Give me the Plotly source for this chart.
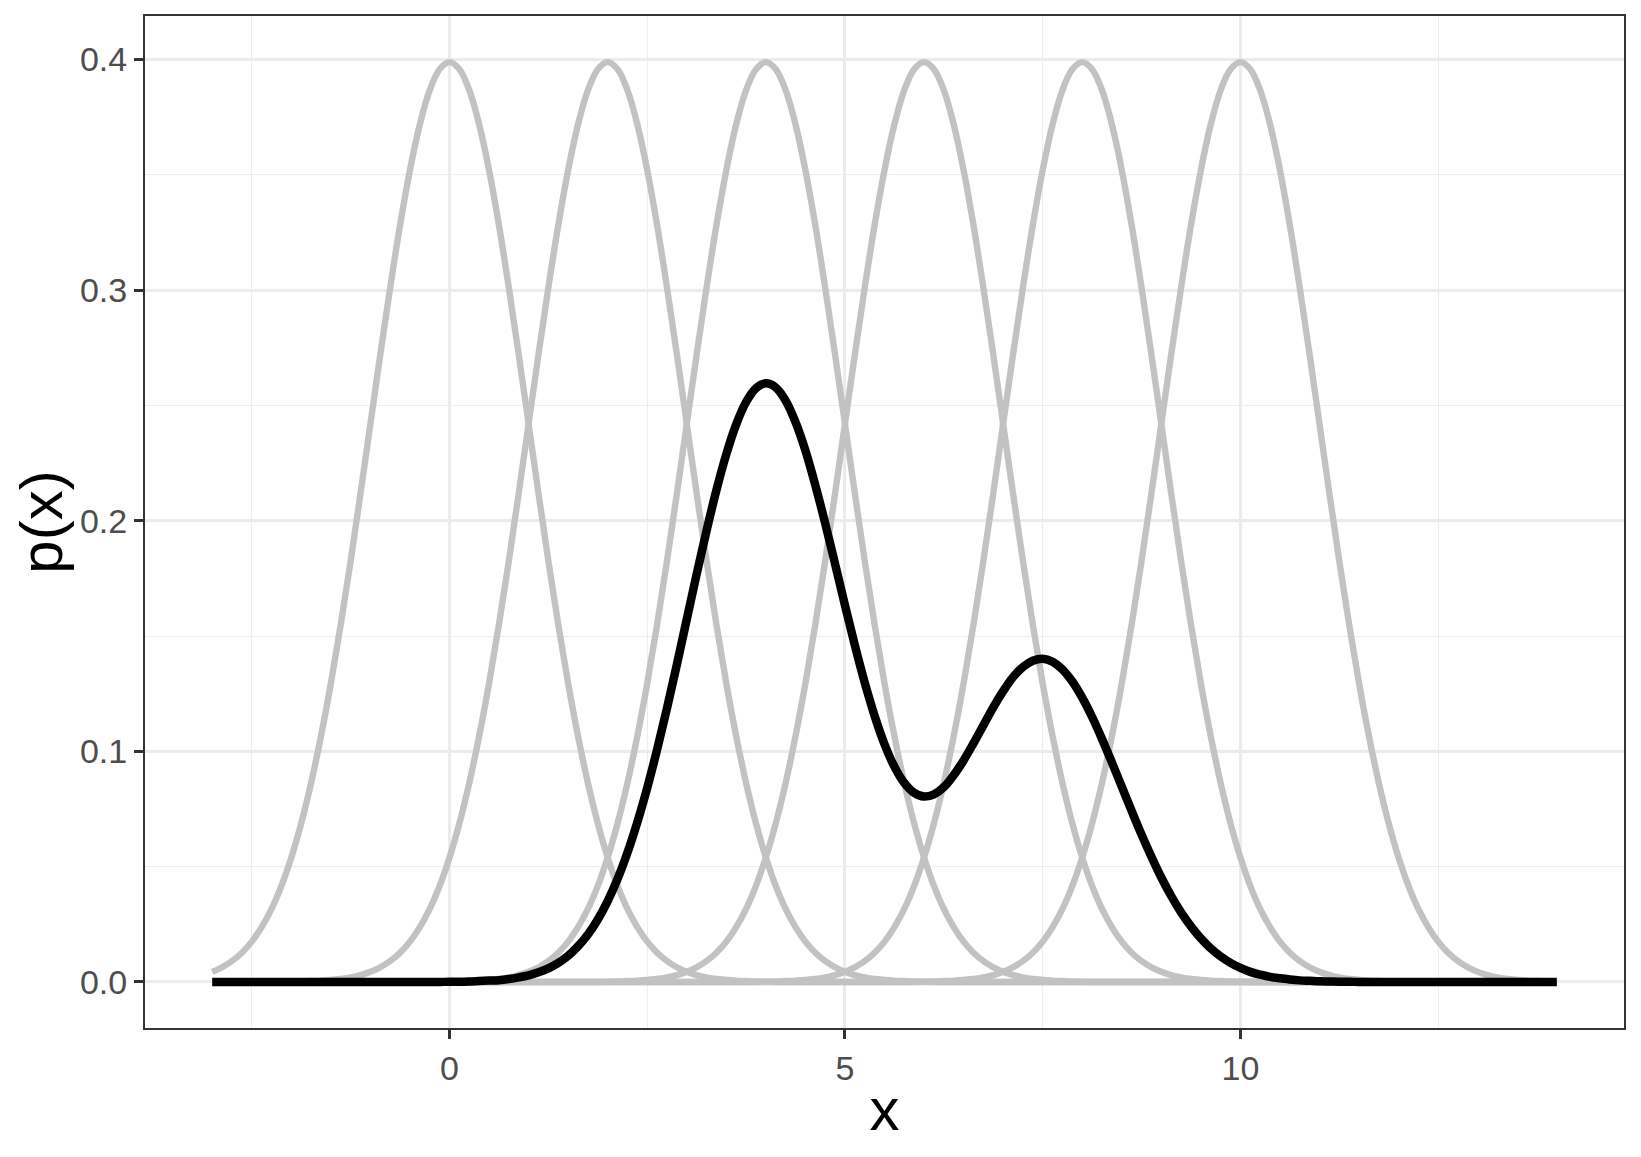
import plotly.graph_objects as go

FONT = 'Liberation Sans, Arial, sans-serif'

# x grid shared by all curves (step 0.125 from -3 to 14, one row per unit)
x_vals = [
    -3, -2.875, -2.75, -2.625, -2.5, -2.375, -2.25, -2.125,
    -2, -1.875, -1.75, -1.625, -1.5, -1.375, -1.25, -1.125,
    -1, -0.875, -0.75, -0.625, -0.5, -0.375, -0.25, -0.125,
    0, 0.125, 0.25, 0.375, 0.5, 0.625, 0.75, 0.875,
    1, 1.125, 1.25, 1.375, 1.5, 1.625, 1.75, 1.875,
    2, 2.125, 2.25, 2.375, 2.5, 2.625, 2.75, 2.875,
    3, 3.125, 3.25, 3.375, 3.5, 3.625, 3.75, 3.875,
    4, 4.125, 4.25, 4.375, 4.5, 4.625, 4.75, 4.875,
    5, 5.125, 5.25, 5.375, 5.5, 5.625, 5.75, 5.875,
    6, 6.125, 6.25, 6.375, 6.5, 6.625, 6.75, 6.875,
    7, 7.125, 7.25, 7.375, 7.5, 7.625, 7.75, 7.875,
    8, 8.125, 8.25, 8.375, 8.5, 8.625, 8.75, 8.875,
    9, 9.125, 9.25, 9.375, 9.5, 9.625, 9.75, 9.875,
    10, 10.125, 10.25, 10.375, 10.5, 10.625, 10.75, 10.875,
    11, 11.125, 11.25, 11.375, 11.5, 11.625, 11.75, 11.875,
    12, 12.125, 12.25, 12.375, 12.5, 12.625, 12.75, 12.875,
    13, 13.125, 13.25, 13.375, 13.5, 13.625, 13.75, 13.875,
    14,
]

# grey component densities (peaks at 0, 2, 4, 6, 8, 10)
comp_0 = [
    0.0044, 0.0064, 0.0091, 0.0127, 0.0175, 0.0238, 0.0317, 0.0417,
    0.0540, 0.0688, 0.0863, 0.1066, 0.1295, 0.1550, 0.1826, 0.2119,
    0.2420, 0.2721, 0.3011, 0.3282, 0.3521, 0.3719, 0.3867, 0.3958,
    0.3989, 0.3958, 0.3867, 0.3719, 0.3521, 0.3282, 0.3011, 0.2721,
    0.2420, 0.2119, 0.1826, 0.1550, 0.1295, 0.1066, 0.0863, 0.0688,
    0.0540, 0.0417, 0.0317, 0.0238, 0.0175, 0.0127, 0.0091, 0.0064,
    0.0044, 0.0030, 0.0020, 0.0013, 0.0009, 0.0006, 0.0004, 0.0002,
    0.0001, 0, 0, 0, 0, 0, 0, 0,
    0, 0, 0, 0, 0, 0, 0, 0,
    0, 0, 0, 0, 0, 0, 0, 0,
    0, 0, 0, 0, 0, 0, 0, 0,
    0, 0, 0, 0, 0, 0, 0, 0,
    0, 0, 0, 0, 0, 0, 0, 0,
    0, 0, 0, 0, 0, 0, 0, 0,
    0, 0, 0, 0, 0, 0, 0, 0,
    0, 0, 0, 0, 0, 0, 0, 0,
    0, 0, 0, 0, 0, 0, 0, 0,
    0,
]
comp_2 = [
    0, 0, 0, 0, 0, 0, 0, 0,
    0.0001, 0.0002, 0.0004, 0.0006, 0.0009, 0.0013, 0.0020, 0.0030,
    0.0044, 0.0064, 0.0091, 0.0127, 0.0175, 0.0238, 0.0317, 0.0417,
    0.0540, 0.0688, 0.0863, 0.1066, 0.1295, 0.1550, 0.1826, 0.2119,
    0.2420, 0.2721, 0.3011, 0.3282, 0.3521, 0.3719, 0.3867, 0.3958,
    0.3989, 0.3958, 0.3867, 0.3719, 0.3521, 0.3282, 0.3011, 0.2721,
    0.2420, 0.2119, 0.1826, 0.1550, 0.1295, 0.1066, 0.0863, 0.0688,
    0.0540, 0.0417, 0.0317, 0.0238, 0.0175, 0.0127, 0.0091, 0.0064,
    0.0044, 0.0030, 0.0020, 0.0013, 0.0009, 0.0006, 0.0004, 0.0002,
    0.0001, 0, 0, 0, 0, 0, 0, 0,
    0, 0, 0, 0, 0, 0, 0, 0,
    0, 0, 0, 0, 0, 0, 0, 0,
    0, 0, 0, 0, 0, 0, 0, 0,
    0, 0, 0, 0, 0, 0, 0, 0,
    0, 0, 0, 0, 0, 0, 0, 0,
    0, 0, 0, 0, 0, 0, 0, 0,
    0, 0, 0, 0, 0, 0, 0, 0,
    0,
]
comp_4 = [
    0, 0, 0, 0, 0, 0, 0, 0,
    0, 0, 0, 0, 0, 0, 0, 0,
    0, 0, 0, 0, 0, 0, 0, 0,
    0.0001, 0.0002, 0.0004, 0.0006, 0.0009, 0.0013, 0.0020, 0.0030,
    0.0044, 0.0064, 0.0091, 0.0127, 0.0175, 0.0238, 0.0317, 0.0417,
    0.0540, 0.0688, 0.0863, 0.1066, 0.1295, 0.1550, 0.1826, 0.2119,
    0.2420, 0.2721, 0.3011, 0.3282, 0.3521, 0.3719, 0.3867, 0.3958,
    0.3989, 0.3958, 0.3867, 0.3719, 0.3521, 0.3282, 0.3011, 0.2721,
    0.2420, 0.2119, 0.1826, 0.1550, 0.1295, 0.1066, 0.0863, 0.0688,
    0.0540, 0.0417, 0.0317, 0.0238, 0.0175, 0.0127, 0.0091, 0.0064,
    0.0044, 0.0030, 0.0020, 0.0013, 0.0009, 0.0006, 0.0004, 0.0002,
    0.0001, 0, 0, 0, 0, 0, 0, 0,
    0, 0, 0, 0, 0, 0, 0, 0,
    0, 0, 0, 0, 0, 0, 0, 0,
    0, 0, 0, 0, 0, 0, 0, 0,
    0, 0, 0, 0, 0, 0, 0, 0,
    0, 0, 0, 0, 0, 0, 0, 0,
    0,
]
comp_6 = [
    0, 0, 0, 0, 0, 0, 0, 0,
    0, 0, 0, 0, 0, 0, 0, 0,
    0, 0, 0, 0, 0, 0, 0, 0,
    0, 0, 0, 0, 0, 0, 0, 0,
    0, 0, 0, 0, 0, 0, 0, 0,
    0.0001, 0.0002, 0.0004, 0.0006, 0.0009, 0.0013, 0.0020, 0.0030,
    0.0044, 0.0064, 0.0091, 0.0127, 0.0175, 0.0238, 0.0317, 0.0417,
    0.0540, 0.0688, 0.0863, 0.1066, 0.1295, 0.1550, 0.1826, 0.2119,
    0.2420, 0.2721, 0.3011, 0.3282, 0.3521, 0.3719, 0.3867, 0.3958,
    0.3989, 0.3958, 0.3867, 0.3719, 0.3521, 0.3282, 0.3011, 0.2721,
    0.2420, 0.2119, 0.1826, 0.1550, 0.1295, 0.1066, 0.0863, 0.0688,
    0.0540, 0.0417, 0.0317, 0.0238, 0.0175, 0.0127, 0.0091, 0.0064,
    0.0044, 0.0030, 0.0020, 0.0013, 0.0009, 0.0006, 0.0004, 0.0002,
    0.0001, 0, 0, 0, 0, 0, 0, 0,
    0, 0, 0, 0, 0, 0, 0, 0,
    0, 0, 0, 0, 0, 0, 0, 0,
    0, 0, 0, 0, 0, 0, 0, 0,
    0,
]
comp_8 = [
    0, 0, 0, 0, 0, 0, 0, 0,
    0, 0, 0, 0, 0, 0, 0, 0,
    0, 0, 0, 0, 0, 0, 0, 0,
    0, 0, 0, 0, 0, 0, 0, 0,
    0, 0, 0, 0, 0, 0, 0, 0,
    0, 0, 0, 0, 0, 0, 0, 0,
    0, 0, 0, 0, 0, 0, 0, 0,
    0.0001, 0.0002, 0.0004, 0.0006, 0.0009, 0.0013, 0.0020, 0.0030,
    0.0044, 0.0064, 0.0091, 0.0127, 0.0175, 0.0238, 0.0317, 0.0417,
    0.0540, 0.0688, 0.0863, 0.1066, 0.1295, 0.1550, 0.1826, 0.2119,
    0.2420, 0.2721, 0.3011, 0.3282, 0.3521, 0.3719, 0.3867, 0.3958,
    0.3989, 0.3958, 0.3867, 0.3719, 0.3521, 0.3282, 0.3011, 0.2721,
    0.2420, 0.2119, 0.1826, 0.1550, 0.1295, 0.1066, 0.0863, 0.0688,
    0.0540, 0.0417, 0.0317, 0.0238, 0.0175, 0.0127, 0.0091, 0.0064,
    0.0044, 0.0030, 0.0020, 0.0013, 0.0009, 0.0006, 0.0004, 0.0002,
    0.0001, 0, 0, 0, 0, 0, 0, 0,
    0, 0, 0, 0, 0, 0, 0, 0,
    0,
]
comp_10 = [
    0, 0, 0, 0, 0, 0, 0, 0,
    0, 0, 0, 0, 0, 0, 0, 0,
    0, 0, 0, 0, 0, 0, 0, 0,
    0, 0, 0, 0, 0, 0, 0, 0,
    0, 0, 0, 0, 0, 0, 0, 0,
    0, 0, 0, 0, 0, 0, 0, 0,
    0, 0, 0, 0, 0, 0, 0, 0,
    0, 0, 0, 0, 0, 0, 0, 0,
    0, 0, 0, 0, 0, 0, 0, 0,
    0.0001, 0.0002, 0.0004, 0.0006, 0.0009, 0.0013, 0.0020, 0.0030,
    0.0044, 0.0064, 0.0091, 0.0127, 0.0175, 0.0238, 0.0317, 0.0417,
    0.0540, 0.0688, 0.0863, 0.1066, 0.1295, 0.1550, 0.1826, 0.2119,
    0.2420, 0.2721, 0.3011, 0.3282, 0.3521, 0.3719, 0.3867, 0.3958,
    0.3989, 0.3958, 0.3867, 0.3719, 0.3521, 0.3282, 0.3011, 0.2721,
    0.2420, 0.2119, 0.1826, 0.1550, 0.1295, 0.1066, 0.0863, 0.0688,
    0.0540, 0.0417, 0.0317, 0.0238, 0.0175, 0.0127, 0.0091, 0.0064,
    0.0044, 0.0030, 0.0020, 0.0013, 0.0009, 0.0006, 0.0004, 0.0002,
    0.0001,
]

# black mixture density
mixture = [
    0, 0, 0, 0, 0, 0, 0, 0,
    0, 0, 0, 0, 0, 0, 0, 0,
    0, 0, 0, 0, 0, 0, 0, 0,
    0.0001, 0.0001, 0.0002, 0.0004, 0.0006, 0.0008, 0.0013, 0.0020,
    0.0029, 0.0042, 0.0059, 0.0083, 0.0114, 0.0155, 0.0206, 0.0271,
    0.0351, 0.0447, 0.0561, 0.0693, 0.0842, 0.1008, 0.1187, 0.1377,
    0.1573, 0.1769, 0.1957, 0.2133, 0.2289, 0.2418, 0.2515, 0.2575,
    0.2596, 0.2578, 0.2521, 0.2428, 0.2305, 0.2155, 0.1989, 0.1813,
    0.1634, 0.1460, 0.1298, 0.1154, 0.1031, 0.0934, 0.0863, 0.0820,
    0.0804, 0.0814, 0.0845, 0.0897, 0.0961, 0.1035, 0.1113, 0.1191,
    0.1261, 0.1322, 0.1366, 0.1393, 0.1402, 0.1389, 0.1355, 0.1303,
    0.1233, 0.1149, 0.1054, 0.0952, 0.0847, 0.0742, 0.0639, 0.0543,
    0.0453, 0.0373, 0.0302, 0.0241, 0.0189, 0.0146, 0.0111, 0.0083,
    0.0061, 0.0044, 0.0032, 0.0022, 0.0016, 0.0011, 0.0007, 0.0005,
    0.0003, 0.0002, 0.0001, 0.0001, 0, 0, 0, 0,
    0, 0, 0, 0, 0, 0, 0, 0,
    0, 0, 0, 0, 0, 0, 0, 0,
    0,
]

fig = go.Figure()

for comp in [comp_0, comp_2, comp_4, comp_6, comp_8, comp_10]:
    fig.add_trace(go.Scatter(
        x=x_vals, y=comp, mode='lines',
        line=dict(color='#c2c2c2', width=6.4, shape='spline', smoothing=1),
        showlegend=False, hoverinfo='skip'
    ))

fig.add_trace(go.Scatter(
    x=x_vals, y=mixture, mode='lines',
    line=dict(color='black', width=8.5, shape='spline', smoothing=1),
    showlegend=False
))

axis_common = dict(
    showline=True, linecolor='#333333', linewidth=2, mirror=True,
    ticks='outside', ticklen=9, tickwidth=2.5, tickcolor='#333333',
    tickfont=dict(size=34, color='#4d4d4d', family=FONT),
    showgrid=True, gridcolor='#ebebeb', gridwidth=2.7,
    zeroline=False, automargin=False,
)

fig.update_xaxes(
    range=[-3.85, 14.85], tickvals=[0, 5, 10], ticktext=['0', '5', '10'],
    minor=dict(tickvals=[-2.5, 2.5, 7.5, 12.5], showgrid=True,
               gridcolor='#ededed', gridwidth=1.4, ticks=''),
    title=dict(text='x', standoff=2, font=dict(size=60, color='black', family=FONT)),
    **axis_common
)
fig.update_yaxes(
    range=[-0.01995, 0.41889], tickvals=[0, 0.1, 0.2, 0.3, 0.4],
    ticktext=['0.0', '0.1', '0.2', '0.3', '0.4'],
    minor=dict(tickvals=[0.05, 0.15, 0.25, 0.35], showgrid=True,
               gridcolor='#ededed', gridwidth=1.4, ticks=''),
    title=dict(text='p(x)', standoff=12, font=dict(size=60, color='black', family=FONT)),
    **axis_common
)

# page body adds ~8px offset, so margins are trimmed on the left/top
fig.update_layout(
    width=1641, height=1157,
    template='plotly_white',
    plot_bgcolor='white', paper_bgcolor='white',
    margin=dict(l=137, r=25, t=8, b=137),
)

fig.write_html("out.html")
